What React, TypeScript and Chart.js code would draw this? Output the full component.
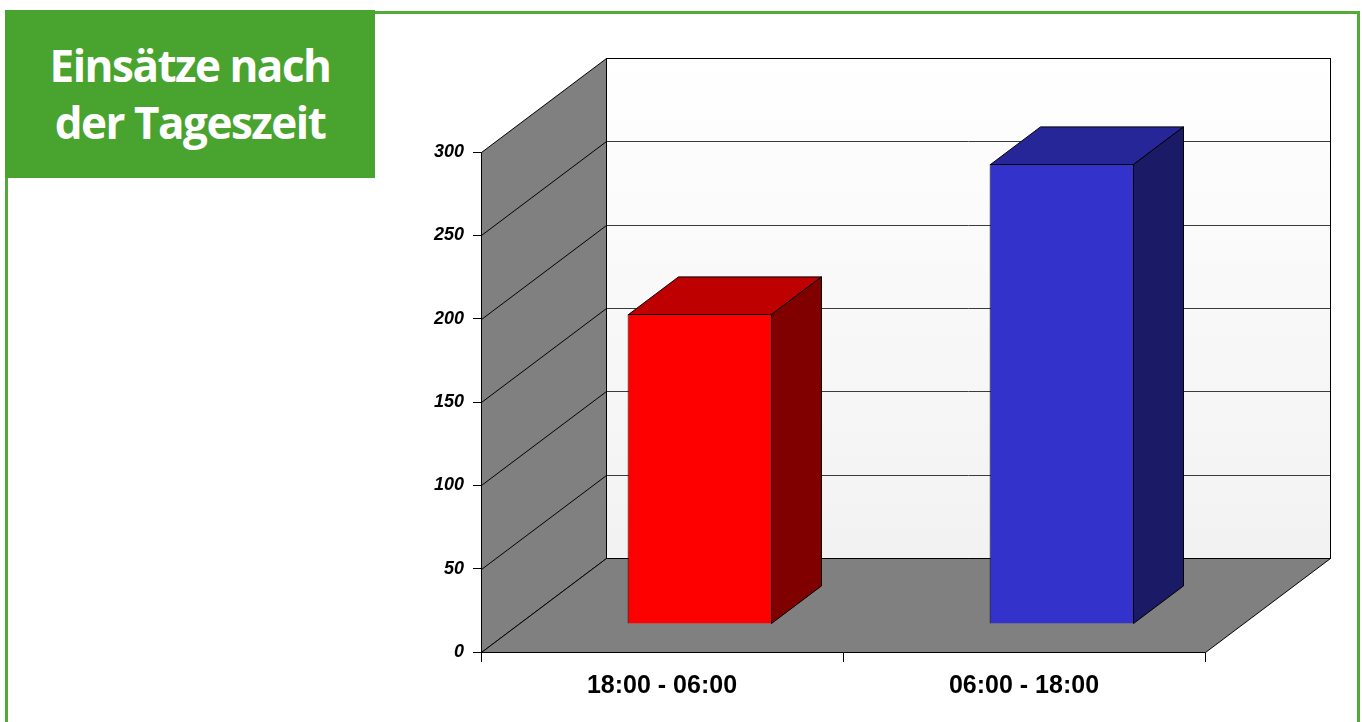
import React, { useEffect, useRef } from "react";
import { Chart, registerables } from "chart.js";

Chart.register(...registerables);

// Einsätze nach Tageszeit
const categories = ["18:00 - 06:00", "06:00 - 18:00"];
const einsaetze = [186, 276];
const barColors = ["#ff0000", "#3333cc"];
const yMin = 0;
const yMax = 300;
const yStep = 50;

// 3D box: offset of the back wall from the front plane, in pixels
const DEPTH_X = 125;
const DEPTH_Y = -94;
// bars sit between 30% and 70% of the depth
const BAR_FRONT = 0.3;
const BAR_DEPTH = 0.4;

const WALL_GRAY = "#808080";

function shade(hex: string, f: number): string {
  const n = parseInt(hex.slice(1), 16);
  const r = Math.round(((n >> 16) & 255) * f);
  const g = Math.round(((n >> 8) & 255) * f);
  const b = Math.round((n & 255) * f);
  return `rgb(${r},${g},${b})`;
}

const crisp = (v: number) => Math.round(v) + 0.5;

function polygon(ctx: CanvasRenderingContext2D, pts: number[][], fill: string | CanvasGradient) {
  ctx.beginPath();
  ctx.moveTo(pts[0][0], pts[0][1]);
  for (let i = 1; i < pts.length; i++) ctx.lineTo(pts[i][0], pts[i][1]);
  ctx.closePath();
  ctx.fillStyle = fill;
  ctx.fill();
  ctx.stroke();
}

const box3d = {
  id: "box3d",
  beforeDatasetsDraw(chart: any) {
    const { ctx, chartArea: a, scales } = chart;
    const y = scales.y;
    const L = crisp(a.left);
    const R = crisp(a.right);
    const T = crisp(y.getPixelForValue(yMax));
    const B = crisp(y.getPixelForValue(yMin));
    const dx = DEPTH_X;
    const dy = DEPTH_Y;
    ctx.save();
    ctx.lineWidth = 1;
    ctx.strokeStyle = "#000";

    // back wall
    const grad = ctx.createLinearGradient(0, T + dy, 0, B + dy);
    grad.addColorStop(0, "#ffffff");
    grad.addColorStop(1, "#f2f2f2");
    ctx.fillStyle = grad;
    ctx.fillRect(L + dx, T + dy, R - L, B - T);
    ctx.strokeStyle = "#3a3a3a";
    for (const t of y.ticks) {
      if (t.value <= yMin || t.value >= yMax) continue;
      const py = crisp(y.getPixelForValue(t.value)) + dy;
      ctx.beginPath();
      ctx.moveTo(L + dx, py);
      ctx.lineTo(R + dx, py);
      ctx.stroke();
    }
    ctx.strokeStyle = "#000";
    ctx.strokeRect(L + dx, T + dy, R - L, B - T);

    // left side wall
    polygon(ctx, [[L, T], [L + dx, T + dy], [L + dx, B + dy], [L, B]], WALL_GRAY);
    for (const t of y.ticks) {
      if (t.value <= yMin || t.value >= yMax) continue;
      const py = crisp(y.getPixelForValue(t.value));
      ctx.beginPath();
      ctx.moveTo(L, py);
      ctx.lineTo(L + dx, py + dy);
      ctx.stroke();
    }

    // floor
    polygon(ctx, [[L, B], [R, B], [R + dx, B + dy], [L + dx, B + dy]], WALL_GRAY);
    ctx.restore();
  },
  beforeDatasetDraw(chart: any) {
    const ctx = chart.ctx;
    ctx.save();
    ctx.translate(Math.round(DEPTH_X * BAR_FRONT), Math.round(DEPTH_Y * BAR_FRONT));
  },
  afterDatasetDraw(chart: any, args: any) {
    const ctx = chart.ctx;
    const bx = DEPTH_X * BAR_DEPTH;
    const by = DEPTH_Y * BAR_DEPTH;
    ctx.lineWidth = 1;
    ctx.strokeStyle = "#000";
    args.meta.data.forEach((bar: any, i: number) => {
      const { x, y, base, width } = bar.getProps(["x", "y", "base", "width"], true);
      const l = crisp(x - width / 2);
      const r = crisp(x + width / 2) - 1;
      const top = crisp(y);
      const bot = crisp(base) - 1;
      const color = barColors[i % barColors.length];
      polygon(ctx, [[l, top], [l + bx, top + by], [r + bx, top + by], [r, top]], shade(color, 0.75));
      polygon(ctx, [[r, top], [r + bx, top + by], [r + bx, bot + by], [r, bot]], shade(color, 0.5));
    });
    ctx.restore();
  },
};

function BarChart3D() {
  const canvasRef = useRef<HTMLCanvasElement | null>(null);

  useEffect(() => {
    const canvas = canvasRef.current;
    if (!canvas) return;
    const chart = new Chart(canvas, {
      type: "bar",
      data: {
        labels: categories,
        datasets: [
          {
            label: "Einsätze",
            data: einsaetze,
            backgroundColor: barColors,
            borderColor: "#000",
            borderWidth: 1,
            barPercentage: 0.4,
            categoryPercentage: 1,
            clip: false as any,
          },
        ],
      },
      options: {
        responsive: false,
        animation: false,
        events: [],
        layout: { padding: { left: 421, right: 157, top: 152, bottom: 20 } },
        plugins: {
          legend: { display: false },
          title: { display: false },
          tooltip: { enabled: false },
        },
        scales: {
          x: {
            grid: {
              offset: true,
              drawOnChartArea: false,
              drawTicks: true,
              tickLength: 10,
              color: "#000",
              lineWidth: 1,
            },
            border: { display: true, color: "#000" },
            ticks: {
              color: "#000",
              padding: 9,
              maxRotation: 0,
              font: { family: "'Liberation Sans', Arial, sans-serif", size: 25, weight: "bold" },
            },
            afterFit(scale: any) {
              scale.height = 50;
            },
          },
          y: {
            min: yMin,
            max: yMax,
            grid: {
              drawOnChartArea: false,
              drawTicks: true,
              tickLength: 8,
              color: "#000",
              lineWidth: 1,
            },
            border: { display: true, color: "#000" },
            ticks: {
              stepSize: yStep,
              color: "#000",
              padding: 9,
              font: { family: "'Liberation Sans', Arial, sans-serif", size: 18, weight: "bold", style: "italic" },
            },
            afterFit(scale: any) {
              scale.width = 60;
            },
          },
        },
      },
      plugins: [box3d],
    });
    return () => chart.destroy();
  }, []);

  return <canvas ref={canvasRef} width={1362} height={722} style={{ position: "absolute", left: 0, top: 0, display: "block" }} />;
}

export default function App() {
  return (
    <div style={{ position: "fixed", left: 0, top: 0, width: 1362, height: 722, overflow: "hidden", background: "#fff" }}>
      <div
        style={{
          position: "absolute",
          left: 5,
          top: 11,
          width: 1349,
          height: 760,
          border: "3px solid #52aa38",
          boxSizing: "content-box",
        }}
      />
      <BarChart3D />
      <div
        style={{
          position: "absolute",
          left: 5,
          top: 10,
          width: 370,
          height: 168,
          background: "#49a32f",
        }}
      >
        <div
          style={{
            position: "absolute",
            left: 0,
            top: 27,
            width: 370,
            textAlign: "center",
            color: "#fff",
            fontFamily: "'Open Sans', sans-serif",
            fontWeight: 700,
            fontSize: 44,
            lineHeight: "57px",
            letterSpacing: -1.5,
          }}
        >
          Einsätze nach
          <br />
          der Tageszeit
        </div>
      </div>
    </div>
  );
}
